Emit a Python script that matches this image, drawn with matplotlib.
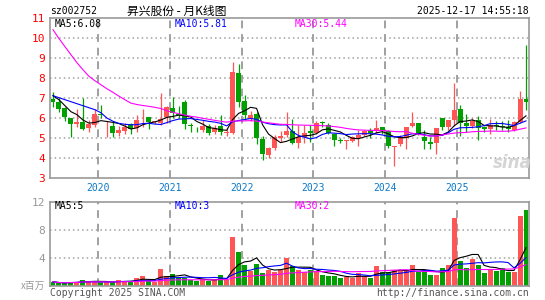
import matplotlib
matplotlib.use('Agg')
import matplotlib.pyplot as plt
import numpy as np
import pandas as pd

plt.rcParams['font.family'] = ['DejaVu Sans Mono', 'Noto Sans CJK SC']

# 月K数据 (2019-05 ~ 2025-12)
months = pd.date_range('2019-05-01', periods=80, freq='MS')

open_ = [6.93, 6.8, 6.5, 5.98, 5.67, 5.78, 5.5, 5.62, 6.2, 5.58,
         5.58, 5.22, 5.32, 5.67, 5.47, 5.98, 6.02, 5.78, 5.72, 6.02,
         6.47, 6.17, 6.8, 5.62, 5.45, 5.38, 5.58, 5.27, 5.6, 5.25,
         5.23, 8.23, 6.83, 5.93, 6.2, 4.93, 4.13, 4.47, 5.0, 5.13,
         5.33, 4.72, 5.05, 5.35, 5.25, 5.77, 5.62, 5.18, 4.9, 4.84,
         4.83, 4.97, 5.13, 5.38, 5.32, 5.53, 5.32, 4.56, 4.68, 4.98,
         5.6, 5.72, 5.05, 4.8, 4.72, 5.97, 5.55, 5.88, 6.42, 5.75,
         5.58, 5.88, 5.52, 5.43, 5.62, 5.6, 5.55, 5.38, 5.8, 6.92]
high = [7.27, 6.97, 6.55, 6.0, 6.42, 7.0, 5.88, 6.43, 6.63, 5.85,
        5.85, 5.6, 5.75, 5.75, 6.13, 6.43, 6.05, 5.85, 7.25, 6.6,
        7.02, 6.6, 6.87, 5.75, 5.55, 5.9, 5.7, 5.65, 6.13, 5.47,
        8.8, 8.68, 7.13, 6.33, 6.3, 5.1, 4.55, 5.13, 5.32, 6.27,
        5.92, 5.62, 5.62, 5.62, 5.85, 5.85, 5.75, 5.25, 5.0, 4.9,
        5.1, 5.38, 5.4, 5.5, 5.88, 5.55, 5.38, 4.6, 5.13, 5.55,
        6.3, 5.72, 5.37, 5.05, 5.5, 5.97, 5.88, 7.75, 6.63, 6.18,
        6.0, 6.1, 5.6, 5.92, 5.85, 5.85, 5.9, 5.85, 7.35, 9.63]
low = [6.55, 6.28, 5.85, 5.03, 5.55, 5.4, 5.28, 5.55, 6.0, 5.03,
       5.03, 5.08, 5.2, 5.2, 5.27, 5.55, 5.43, 5.7, 5.65, 5.75,
       6.0, 5.97, 5.43, 5.28, 5.3, 5.3, 5.13, 5.2, 5.15, 5.1,
       5.2, 6.55, 5.9, 5.85, 4.7, 3.87, 3.97, 4.37, 4.78, 5.05,
       4.7, 4.5, 4.75, 4.77, 5.2, 5.55, 5.2, 4.6, 4.75, 4.42,
       4.8, 4.58, 5.1, 4.97, 5.25, 5.17, 4.5, 3.58, 4.58, 4.42,
       5.55, 5.15, 4.42, 4.45, 4.18, 5.38, 5.4, 5.6, 5.08, 5.3,
       5.5, 4.88, 5.3, 5.2, 5.4, 5.37, 5.3, 5.35, 5.75, 6.38]
close = [6.8, 6.45, 6.02, 5.7, 5.8, 5.45, 5.68, 6.18, 6.15, 5.6,
         5.22, 5.38, 5.55, 5.43, 5.88, 6.0, 5.8, 5.82, 5.92, 6.53,
         6.25, 6.12, 5.67, 5.6, 5.43, 5.58, 5.25, 5.47, 5.27, 5.27,
         8.27, 6.8, 6.13, 6.13, 5.0, 4.17, 4.47, 5.03, 5.1, 5.33,
         4.75, 5.02, 5.25, 5.25, 5.72, 5.73, 5.25, 4.88, 4.85, 4.86,
         5.02, 5.13, 5.33, 5.25, 5.48, 5.32, 4.58, 4.6, 5.02, 5.52,
         5.72, 5.18, 4.82, 4.68, 5.48, 5.55, 5.88, 6.38, 5.75, 5.6,
         5.83, 5.47, 5.42, 5.63, 5.58, 5.56, 5.42, 5.8, 6.92, 6.77]
# 成交量 (百万)
vol = [0.52, 0.33, 0.33, 0.5, 0.52, 0.85, 0.6, 0.52, 0.45, 0.45,
       0.52, 0.85, 0.6, 0.6, 1.04, 1.43, 0.67, 0.48, 2.33, 1.43,
       1.62, 1.14, 1.1, 0.85, 0.6, 0.95, 0.6, 0.95, 1.47, 0.85,
       6.9, 4.8, 2.9, 2.04, 3.14, 1.76, 2.19, 1.95, 2.28, 3.95,
       2.76, 2.19, 1.95, 2.19, 2.05, 1.47, 1.33, 1.33, 1.09, 1.24,
       1.14, 1.81, 1.33, 1.09, 2.76, 1.95, 2.0, 2.19, 2.19, 2.19,
       2.9, 1.95, 2.19, 1.47, 1.47, 2.47, 2.9, 9.62, 3.47, 2.47,
       3.76, 2.9, 1.81, 2.28, 2.05, 2.57, 1.95, 1.95, 9.9, 10.76]

# 窗口前的均线值
ma5_head = [7.1, 6.9, 6.6, 6.3]
ma10_head = [7.1, 7.0, 6.9, 6.8, 6.7, 6.6, 6.5, 6.4, 6.25]
ma30_head = [10.4, 9.96, 9.55, 9.15, 8.75, 8.4, 8.07, 7.85, 7.65, 7.45,
             7.27, 7.08, 6.9, 6.73, 6.66, 6.61, 6.57, 6.52, 6.46, 6.35,
             6.27, 6.2, 6.13, 6.07, 6.03, 5.97, 5.92, 5.87, 5.82]

ma_labels = ['MA5:6.08', 'MA10:5.81', 'MA30:5.44']
vma_labels = ['MA5:5', 'MA10:3', 'MA30:2']

RED = '#ff5555'
GREEN = '#00a000'
GRID = '#a0a0a0'

c = pd.Series(close)
ma5 = c.rolling(5).mean().values
ma5[:4] = ma5_head
ma10 = c.rolling(10).mean().values
ma10[:9] = ma10_head
ma30 = c.rolling(30).mean().values
ma30[:29] = ma30_head
v = pd.Series(vol)
vma5 = v.rolling(5, min_periods=1).mean().values
vma10 = v.rolling(10, min_periods=1).mean().values
vma30 = v.rolling(30, min_periods=1).mean().values

o = np.array(open_)
cl = np.array(close)
x = np.arange(len(months))
up = cl >= o
colors = np.where(up, RED, GREEN)


def fx(px):
    return px / 545


def fy(py):
    return 1 - py / 300


fig = plt.figure(figsize=(5.45, 3.0), dpi=100)
ax = fig.add_axes([fx(50), fy(177.7), fx(479), 160 / 300])
axv = fig.add_axes([fx(50), fy(285.5), fx(479), 83.8 / 300])

year_pos = [i - 0.5 for i, m in enumerate(months) if m.month == 1]
year_lab = [str(m.year) for m in months if m.month == 1]

for a in (ax, axv):
    a.set_xlim(-0.5, len(x) - 0.5)
    for s in a.spines.values():
        s.set_color('#999999')
        s.set_linewidth(1.2)
    a.tick_params(length=0)
    for p in year_pos:
        a.axvline(p, color=GRID, lw=1.4, dashes=(4, 3), zorder=1)

# K线
ax.vlines(x, low, high, colors=colors, lw=0.9, zorder=2)
body_h = np.maximum(np.abs(cl - o), 0.025)
ax.bar(x, body_h, bottom=np.minimum(o, cl), width=0.83, color=colors, zorder=3)
ax.plot(x, ma5, color='black', lw=0.8, zorder=4)
ax.plot(x, ma10, color='#0000ff', lw=0.8, zorder=4)
ax.plot(x, ma30, color='#ff00ff', lw=0.8, zorder=4)

ax.set_ylim(3, 11)
ax.set_yticks(range(3, 12))
for yv in range(4, 11):
    ax.axhline(yv, color=GRID, lw=1.1, ls=(0, (1, 2)), zorder=1)
ax.tick_params(axis='y', colors='red', labelsize=8, pad=3.5)
ax.set_xticks(year_pos)
ax.set_xticklabels(year_lab)
ax.tick_params(axis='x', colors='#0a78c8', labelsize=7, pad=4)

# 成交量
axv.bar(x, vol, width=0.83, color=colors, zorder=2)
axv.plot(x, vma5, color='black', lw=0.8, zorder=3)
axv.plot(x, vma10, color='#0000ff', lw=0.8, zorder=3)
axv.plot(x, vma30, color='#ff00ff', lw=0.8, zorder=3)
axv.set_ylim(0, 12)
axv.set_yticks([4, 8, 12])
for yv in (4, 8):
    axv.axhline(yv, color=GRID, lw=1.1, ls=(0, (1, 2)), zorder=1)
axv.tick_params(axis='y', colors='#999999', labelsize=8, pad=3.5)
axv.set_xticks([])

# 文字
ma_cols = ['black', '#0000ff', '#ff00ff']
for lab, vlab, col, px in zip(ma_labels, vma_labels, ma_cols, [55, 175, 295]):
    fig.text(fx(px), fy(24), lab, color=col, fontsize=7, va='center')
    fig.text(fx(px), fy(206), vlab, color=col, fontsize=7, va='center')

fig.text(fx(50), fy(11), 'sz002752', fontsize=7, va='center')
fig.text(fx(177), fy(11), '昇兴股份 - 月K线图', fontsize=8.5, va='center', ha='center',
         family=['Noto Sans CJK SC', 'DejaVu Sans'])
fig.text(fx(529), fy(11), '2025-12-17 14:55:18', fontsize=7, va='center', ha='right')
fig.text(fx(45), fy(286), 'x百万', fontsize=7, va='center', ha='right', color='#999999',
         family=['Noto Sans CJK SC', 'DejaVu Sans'])
fig.text(fx(50), fy(293), 'Copyright 2025 SINA.COM', fontsize=7, va='center', color='#555555')
fig.text(fx(529), fy(293), 'http://finance.sina.com.cn', fontsize=7, va='center', ha='right',
         color='#555555')
fig.text(fx(512), fy(163), 'sina', fontsize=12, va='center', ha='center', color='#d5d5d5',
         style='italic', weight='bold', family='DejaVu Sans')

fig.savefig('out.png', dpi=100)
